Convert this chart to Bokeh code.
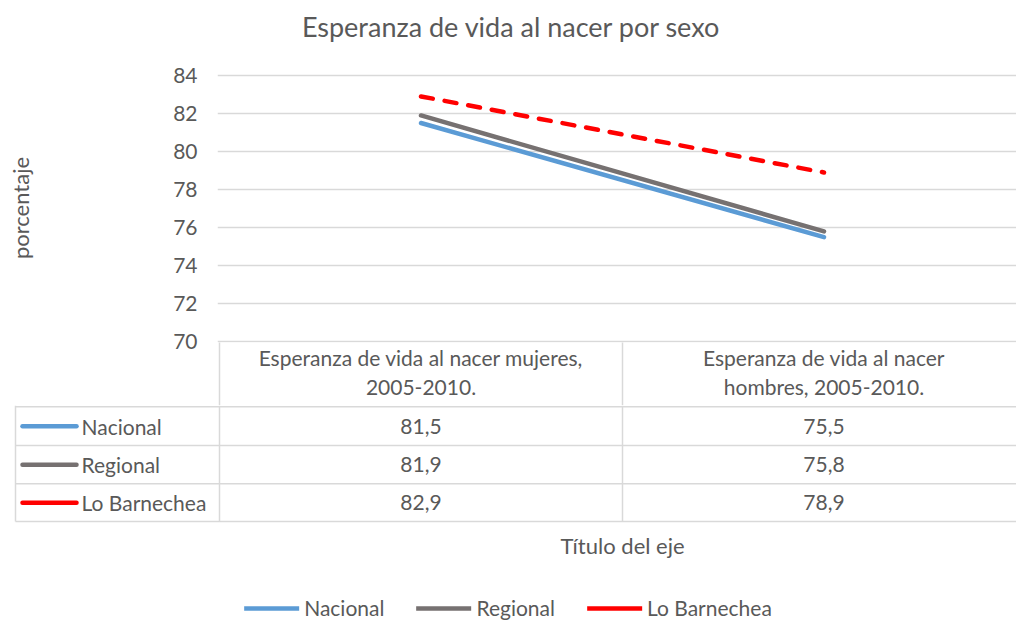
from bokeh.plotting import figure
from bokeh.models import Range1d, FixedTicker, Legend, LegendItem
from bokeh.layouts import column
from bokeh.core.properties import value
from bokeh.embed import file_html
from bokeh.resources import INLINE

# ---------------- data ----------------
categories = ["Esperanza de vida al nacer mujeres,\n2005-2010.",
              "Esperanza de vida al nacer\nhombres, 2005-2010."]
series_names = ["Nacional", "Regional", "Lo Barnechea"]
nacional = [81.5, 75.5]
regional = [81.9, 75.8]
lo_barnechea = [82.9, 78.9]
y_ticks = [70, 72, 74, 76, 78, 80, 82, 84]
chart_title = "Esperanza de vida al nacer por sexo"
y_label = "porcentaje"
x_label = "Título del eje"

# ---------------- style / layout ----------------
FONT = value("Lato")
TXT = "#595959"
GRID = "#d9d9d9"
colors = ["#5B9BD5", "#767171", "#FF0000"]
dashes = ["solid", "solid", "12 12"]
series = [nacional, regional, lo_barnechea]

W = 1016
COL0, COLW = 219, 403          # page x of first column, column width (px)
def xu(px):
    return (px - COL0) / COLW

Y_TOP_PX, Y_BOT_PX = 75, 340.7   # page y of 84 and 70
ppu = (Y_BOT_PX - Y_TOP_PX) / (y_ticks[-1] - y_ticks[0])
def yv(py):
    return y_ticks[-1] - (py - Y_TOP_PX) / ppu

TITLE_H = 50
TOP_END = 405
frame_top = 73
frame_bot = 341.5
frame_left = 217

ncol = len(categories)
xs = [i + 0.5 for i in range(ncol)]

# ---------------- title strip ----------------
p0 = figure(width=W, height=TITLE_H, output_backend="svg", toolbar_location=None,
            x_range=Range1d(0, W), y_range=Range1d(TITLE_H, 0),
            x_axis_type=None, y_axis_type=None,
            min_border_left=0, min_border_right=0, min_border_top=0, min_border_bottom=0,
            frame_align=False)
p0.outline_line_color = None
p0.border_fill_color = "white"
p0.text(x=[511], y=[26], text=[chart_title], text_align="center", text_baseline="middle",
        text_font=FONT, text_font_size="27px", text_color=TXT)

# ---------------- chart ----------------
p1 = figure(width=W, height=TOP_END - TITLE_H, output_backend="svg", toolbar_location=None,
            x_range=Range1d(xu(frame_left), xu(W)),
            y_range=Range1d(yv(frame_bot), yv(frame_top)),
            min_border_left=frame_left, min_border_right=0,
            min_border_top=frame_top - TITLE_H, min_border_bottom=int(TOP_END - frame_bot),
            frame_align=False)
p1.outline_line_color = None
p1.background_fill_color = "white"
p1.border_fill_color = "white"

ax = p1.yaxis[0]
ax.ticker = FixedTicker(ticks=y_ticks)
ax.axis_line_color = None
ax.major_tick_line_color = None
ax.minor_tick_line_color = None
ax.major_tick_out = 0
ax.major_label_standoff = 20
ax.major_label_text_font = "Lato"
ax.major_label_text_font_size = "21px"
ax.major_label_text_color = TXT
ax.axis_label = y_label
ax.axis_label_text_font = "Lato"
ax.axis_label_text_font_size = "22px"
ax.axis_label_text_font_style = "normal"
ax.axis_label_text_color = TXT
ax.axis_label_standoff = 136

# category axis = header row of the data table
tick_len = int(TOP_END - frame_bot) + 1
xa = p1.xaxis[0]
xa.ticker = FixedTicker(ticks=xs, minor_ticks=list(range(ncol + 1)))
xa.major_label_overrides = {x: c for x, c in zip(xs, categories)}
xa.axis_line_color = None
xa.major_tick_line_color = None
xa.major_tick_out = 0
xa.major_tick_in = 0
xa.minor_tick_line_color = GRID
xa.minor_tick_line_width = 1.5
xa.minor_tick_in = 0
xa.minor_tick_out = tick_len
xa.major_label_standoff = -tick_len + 2
xa.major_label_text_font = "Lato"
xa.major_label_text_font_size = "21px"
xa.major_label_text_color = TXT
xa.major_label_text_line_height = 1.18

p1.ygrid.grid_line_color = GRID
p1.ygrid.grid_line_width = 1.5
p1.xgrid.visible = False

for vals, c, d in zip(series, colors, dashes):
    p1.line(xs, vals, line_color=c, line_width=4.5, line_dash=d, line_cap="round")

# ---------------- bottom figure: table body, axis title, legend ----------------
bot_h = 622 - TOP_END
def yb(py):
    return py - TOP_END

p2 = figure(width=W, height=bot_h, output_backend="svg", toolbar_location=None,
            x_range=Range1d(xu(0), xu(W)), y_range=Range1d(bot_h, 0),
            x_axis_type=None, y_axis_type=None,
            min_border_left=0, min_border_right=0, min_border_top=0, min_border_bottom=0,
            frame_align=False)
p2.outline_line_color = None
p2.background_fill_color = "white"
p2.border_fill_color = "white"

row_edges = [406.3, 445.0, 483.3, 521.0]
tbl_left = 15
p2.segment(x0=[xu(tbl_left)] * len(row_edges), x1=[ncol + 0.2] * len(row_edges),
           y0=[yb(r) for r in row_edges], y1=[yb(r) for r in row_edges],
           line_color=GRID, line_width=1.5)
vx = [xu(tbl_left)] + list(range(ncol))
p2.segment(x0=vx, x1=vx, y0=[0] * len(vx), y1=[yb(row_edges[-1])] * len(vx),
           line_color=GRID, line_width=1.5)

items = []
for k, (name, vals, c) in enumerate(zip(series_names, series, colors)):
    yc = yb((row_edges[k] + row_edges[k + 1]) / 2)
    r = p2.line([xu(22), xu(76)], [yc, yc], line_color=c, line_width=4.5, line_cap="round")
    items.append(LegendItem(label=name, renderers=[r]))
    p2.text(x=[xu(81)], y=[yc], text=[name], text_align="left", text_baseline="middle",
            text_font=FONT, text_font_size="21px", text_color=TXT)
    p2.text(x=xs, y=[yc] * ncol, text=[f"{v:.1f}".replace(".", ",") for v in vals],
            text_align="center", text_baseline="middle",
            text_font=FONT, text_font_size="21px", text_color=TXT)

p2.text(x=[ncol / 2], y=[yb(545)], text=[x_label], text_align="center", text_baseline="middle",
        text_font=FONT, text_font_size="22px", text_color=TXT)

legend = Legend(items=items, orientation="horizontal", location="bottom_center",
                glyph_width=55, glyph_height=20, label_standoff=5, spacing=32,
                padding=0, margin=2, border_line_color=None, background_fill_alpha=0,
                label_text_font="Lato", label_text_font_size="21px", label_text_color=TXT)
p2.add_layout(legend)

layout = column(p0, p1, p2)
open("out.html", "w").write(file_html(layout, INLINE))
